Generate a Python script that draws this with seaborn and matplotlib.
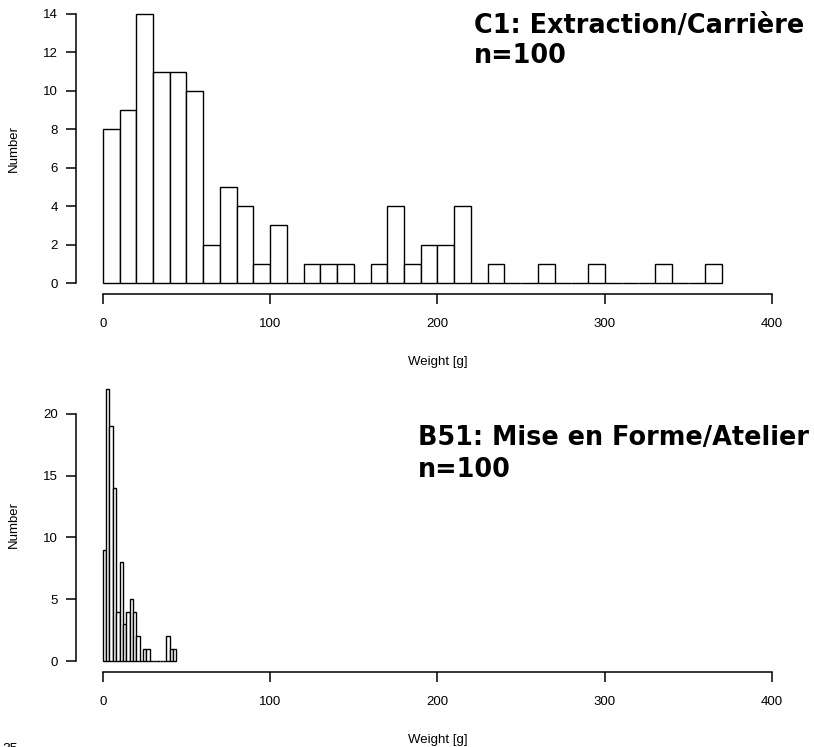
import numpy as np
import pandas as pd
import matplotlib
matplotlib.use("Agg")
import matplotlib.pyplot as plt
import seaborn as sns

# ── Data (bin counts) ────────────────────────────────────────────────────────
C1_BIN_WIDTH = 10
C1_COUNTS = [8, 9, 14, 11, 11, 10, 2, 5, 4, 1, 3, 0, 1, 1, 1, 0, 1, 4, 1,
             2, 2, 4, 0, 1, 0, 0, 1, 0, 0, 1, 0, 0, 0, 1, 0, 0, 1]
B51_BIN_WIDTH = 2
B51_COUNTS = [9, 22, 19, 14, 4, 8, 3, 4, 5, 4, 2, 0, 1, 1, 0, 0, 0, 0, 0,
              2, 1, 1]

C1_LABEL = "C1: Extraction/Carrière"
B51_LABEL = "B51: Mise en Forme/Atelier"
N_LABEL = "n=100"
X_TICKS = [0, 100, 200, 300, 400]
C1_YTICKS = [0, 2, 4, 6, 8, 10, 12, 14]
B51_YTICKS = [0, 5, 10, 15, 20]

W, H = 814, 747

sns.set_style("white")
plt.rcParams["font.family"] = ["Liberation Sans", "DejaVu Sans"]
plt.rcParams.update({"text.color": "black", "axes.labelcolor": "black",
                     "xtick.color": "black", "ytick.color": "black"})


def draw_hist(ax, counts, width, yticks):
    counts = np.asarray(counts, dtype=float)
    edges = [i * width for i in range(len(counts) + 1)]
    df = pd.DataFrame({"weight": np.array(edges[:-1]) + width / 2, "n": counts})
    sns.histplot(data=df, x="weight", weights="n", bins=edges, ax=ax,
                 color="white", edgecolor="black", linewidth=1.0, alpha=1)

    ymax = max(yticks[-1], counts.max())
    pad_y = 0.04 * ymax
    ax.set_xlim(-16, 416)
    ax.set_ylim(-pad_y, ymax + pad_y)
    ax.set_xticks(X_TICKS)
    ax.set_yticks(yticks)
    ax.spines["top"].set_visible(False)
    ax.spines["right"].set_visible(False)
    ax.spines["left"].set_bounds(yticks[0], yticks[-1])
    ax.spines["bottom"].set_bounds(X_TICKS[0], X_TICKS[-1])
    for s in ("left", "bottom"):
        ax.spines[s].set_linewidth(1.1)
        ax.spines[s].set_color("black")
    ax.tick_params(axis="both", direction="out", length=7.5, width=1.1,
                   color="black", labelcolor="black", labelsize=9.5,
                   left=True, bottom=True)
    ax.tick_params(axis="x", pad=9.5)
    ax.tick_params(axis="y", pad=5.5)
    ax.set_xlabel("Weight [g]", fontsize=9.5, labelpad=19, color="black")
    ax.set_ylabel("Number", fontsize=9.5, labelpad=16.5, color="black")


fig = plt.figure(figsize=(W / 100, H / 100), dpi=100)
ax1 = fig.add_axes([76 / W, 1 - 294 / H, 723 / W, 291 / H])
ax2 = fig.add_axes([76 / W, 1 - 672 / H, 723 / W, 294 / H])

draw_hist(ax1, C1_COUNTS, C1_BIN_WIDTH, C1_YTICKS)
draw_hist(ax2, B51_COUNTS, B51_BIN_WIDTH, B51_YTICKS)

big = dict(fontsize=18.4, fontweight="bold", color="black",
           family=["DejaVu Sans"])
fig.text(474 / W, 1 - 33 / H, C1_LABEL, va="baseline", ha="left", **big)
fig.text(474 / W, 1 - 63 / H, N_LABEL, va="baseline", ha="left", **big)
fig.text(418 / W, 1 - 445 / H, B51_LABEL, va="baseline", ha="left", **big)
fig.text(418 / W, 1 - 477 / H, N_LABEL, va="baseline", ha="left", **big)

# page number, cut off by the bottom edge
fig.text(2 / W, -6 / H, "35", fontsize=10, va="baseline", ha="left")

fig.savefig("out.png", dpi=100)
